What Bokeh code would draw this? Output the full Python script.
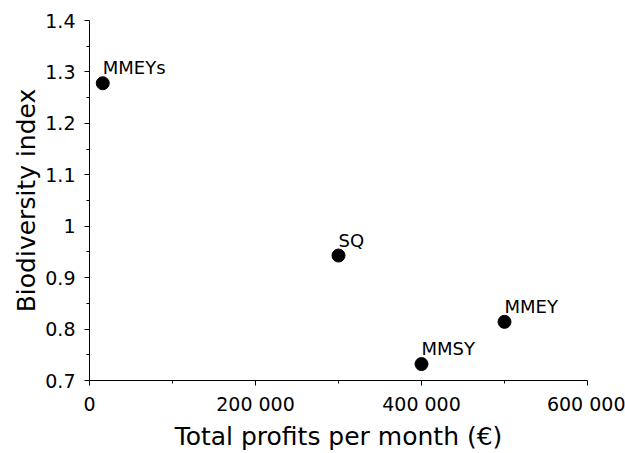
from bokeh.plotting import figure
from bokeh.models import ColumnDataSource, FixedTicker, Range1d
from bokeh.embed import file_html
from bokeh.resources import INLINE

# Data
strategies = ["MMEYs", "SQ", "MMSY", "MMEY"]
profits = [16000, 300000, 400000, 500000]
biodiversity = [1.278, 0.943, 0.732, 0.814]

x_ticks = [0, 200000, 400000, 600000]
x_tick_labels = ["0", "200 000", "400 000", "600 000"]
x_minor = [100000, 300000, 500000]
y_ticks = [0.7, 0.8, 0.9, 1.0, 1.1, 1.2, 1.3, 1.4]
y_tick_labels = ["0.7", "0.8", "0.9", "1", "1.1", "1.2", "1.3", "1.4"]
y_minor = [0.75, 0.85, 0.95, 1.05, 1.15, 1.25, 1.35]

FONT = "DejaVu Sans"

src = ColumnDataSource(dict(x=profits, y=biodiversity, name=strategies))

p = figure(width=625, height=453, output_backend="svg", toolbar_location=None,
           x_range=Range1d(0, 600000), y_range=Range1d(0.7, 1.4),
           min_border_left=89, min_border_right=38, min_border_top=20,
           min_border_bottom=71)
p.outline_line_color = None
p.xgrid.visible = False
p.ygrid.visible = False

p.scatter("x", "y", source=src, size=13, fill_color="black", line_color="black")
p.text("x", "y", text="name", source=src, x_offset=0, y_offset=-5,
       text_baseline="bottom", text_align="left",
       text_font_size="18px", text_color="black", text_font={"value": FONT})

for ax, ticks, labels, minor in ((p.xaxis[0], x_ticks, x_tick_labels, x_minor),
                                 (p.yaxis[0], y_ticks, y_tick_labels, y_minor)):
    ax.ticker = FixedTicker(ticks=ticks, minor_ticks=minor)
    ax.major_label_overrides = {t: l for t, l in zip(ticks, labels)}
    ax.major_tick_out = 5
    ax.major_tick_in = 0
    ax.minor_tick_out = 3
    ax.minor_tick_in = 0
    ax.axis_line_color = "black"
    ax.major_tick_line_color = "black"
    ax.minor_tick_line_color = "black"
    ax.major_label_text_font = FONT
    ax.major_label_text_font_size = "19px"
    ax.major_label_text_color = "black"
    ax.axis_label_text_font = FONT
    ax.axis_label_text_font_size = "25px"
    ax.axis_label_text_font_style = "normal"
    ax.axis_label_text_color = "black"

p.xaxis.axis_label = "Total profits per month (€)"
p.yaxis.axis_label = "Biodiversity index"
p.xaxis.major_label_standoff = 7
p.yaxis.major_label_standoff = 9
p.xaxis.axis_label_standoff = 4
p.yaxis.axis_label_standoff = 1

open("out.html", "w").write(file_html(p, INLINE))
